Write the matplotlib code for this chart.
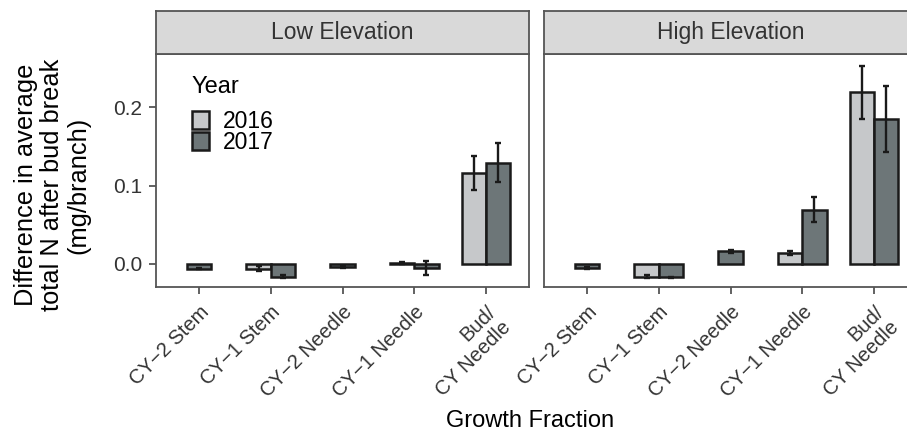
import numpy as np
import matplotlib
matplotlib.use("Agg")
from matplotlib import pyplot as plt
from matplotlib.patches import Patch

plt.rcParams['font.family'] = ['Liberation Sans', 'DejaVu Sans']

# data
fractions = ['CY\u22122 Stem', 'CY\u22121 Stem', 'CY\u22122 Needle', 'CY\u22121 Needle', 'Bud/\nCY Needle']
panels = ['Low Elevation', 'High Elevation']
years = ['2016', '2017']

low_2016 = [np.nan, -0.006, np.nan, 0.001, 0.116]
low_2016_err = [np.nan, 0.003, np.nan, 0.001, 0.022]
low_2017 = [-0.006, -0.016, -0.004, -0.005, 0.129]
low_2017_err = [0.001, 0.002, 0.001, 0.009, 0.025]

high_2016 = [np.nan, -0.016, np.nan, 0.014, 0.219]
high_2016_err = [np.nan, 0.002, np.nan, 0.002, 0.034]
high_2017 = [-0.005, -0.017, 0.016, 0.069, 0.185]
high_2017_err = [0.001, 0.001, 0.002, 0.016, 0.042]

colors = {'2016': '#c6c8ca', '2017': '#6d7678'}
edge = '#1a1a1a'
frame = '#555555'

W, H = 907, 433
fig = plt.figure(figsize=(W / 100, H / 100), dpi=100)

# panel geometry in pixels (second panel runs off the right edge like the reference)
panel_w = 373
lefts = [156, 544]
top_px, bot_px, strip_px = 54, 287, 43

bar_w = 0.34
x = np.arange(len(fractions))

series = [
    (low_2016, low_2016_err, low_2017, low_2017_err),
    (high_2016, high_2016_err, high_2017, high_2017_err),
]

axes = []
for k, (name, (v16, e16, v17, e17)) in enumerate(zip(panels, series)):
    ax = fig.add_axes([lefts[k] / W, 1 - bot_px / H, panel_w / W, (bot_px - top_px) / H])
    axes.append(ax)
    v16 = np.array(v16); e16 = np.array(e16)
    v17 = np.array(v17); e17 = np.array(e17)
    single = np.isnan(v16)
    x16 = x - bar_w / 2
    x17 = np.where(single, x, x + bar_w / 2)

    m = ~single
    ax.bar(x16[m], v16[m], width=bar_w, color=colors['2016'], edgecolor=edge, linewidth=1.8, zorder=2)
    ax.bar(x17, v17, width=bar_w, color=colors['2017'], edgecolor=edge, linewidth=1.8, zorder=2)
    ax.errorbar(x16[m], v16[m], yerr=e16[m], fmt='none', ecolor=edge, elinewidth=1.7,
                capsize=2.5, capthick=1.7, zorder=3)
    ax.errorbar(x17, v17, yerr=e17, fmt='none', ecolor=edge, elinewidth=1.7,
                capsize=2.5, capthick=1.7, zorder=3)

    ax.set_xlim(-0.6, len(fractions) - 0.4)
    ax.set_ylim(-0.0294, 0.268)
    ax.set_xticks(x)
    ax.set_xticklabels(fractions, rotation=45, ha='right', va='top', rotation_mode='anchor')
    ax.tick_params(axis='x', length=5, width=1.3, color=frame, pad=6, labelsize=14.5, labelcolor='#333333')
    if k == 0:
        ax.set_yticks([0.0, 0.1, 0.2])
        ax.set_yticklabels(['0.0', '0.1', '0.2'])
        ax.tick_params(axis='y', length=5, width=1.3, color=frame, pad=5, labelsize=15, labelcolor='#333333')
    else:
        ax.set_yticks([])
    for s in ax.spines.values():
        s.set_color(frame)
        s.set_linewidth(1.3)

    # facet strip
    sx = fig.add_axes([lefts[k] / W, 1 - top_px / H, panel_w / W, strip_px / H])
    sx.set_facecolor('#d9d9d9')
    sx.set_xticks([]); sx.set_yticks([])
    for s in sx.spines.values():
        s.set_color(frame)
        s.set_linewidth(1.3)
    sx.text(0.5, 0.5, name, transform=sx.transAxes, ha='center', va='center',
            fontsize=16.5, color='#333333')

# legend inside left panel
ax = axes[0]
ax.text(0.094, 0.905, 'Year', transform=ax.transAxes, ha='left', va='top', fontsize=17)
handles = [Patch(facecolor=colors[y], edgecolor=edge, linewidth=1.8) for y in years]
ax.legend(handles, years, loc='upper left', bbox_to_anchor=(0.067, 0.81), frameon=False,
          borderpad=0, handlelength=0.72, handleheight=0.85, handletextpad=0.6,
          labelspacing=-0.08, fontsize=16.5)

fig.text(52 / W, 1 - 185 / H, 'Difference in average\ntotal N after bud break\n(mg/branch)',
         rotation=90, ha='center', va='center', multialignment='center',
         fontsize=18.3, linespacing=1.1)
fig.text(530 / W, 1 / H, 'Growth Fraction', ha='center', va='bottom', fontsize=17)

fig.savefig('out.png', dpi=100)
